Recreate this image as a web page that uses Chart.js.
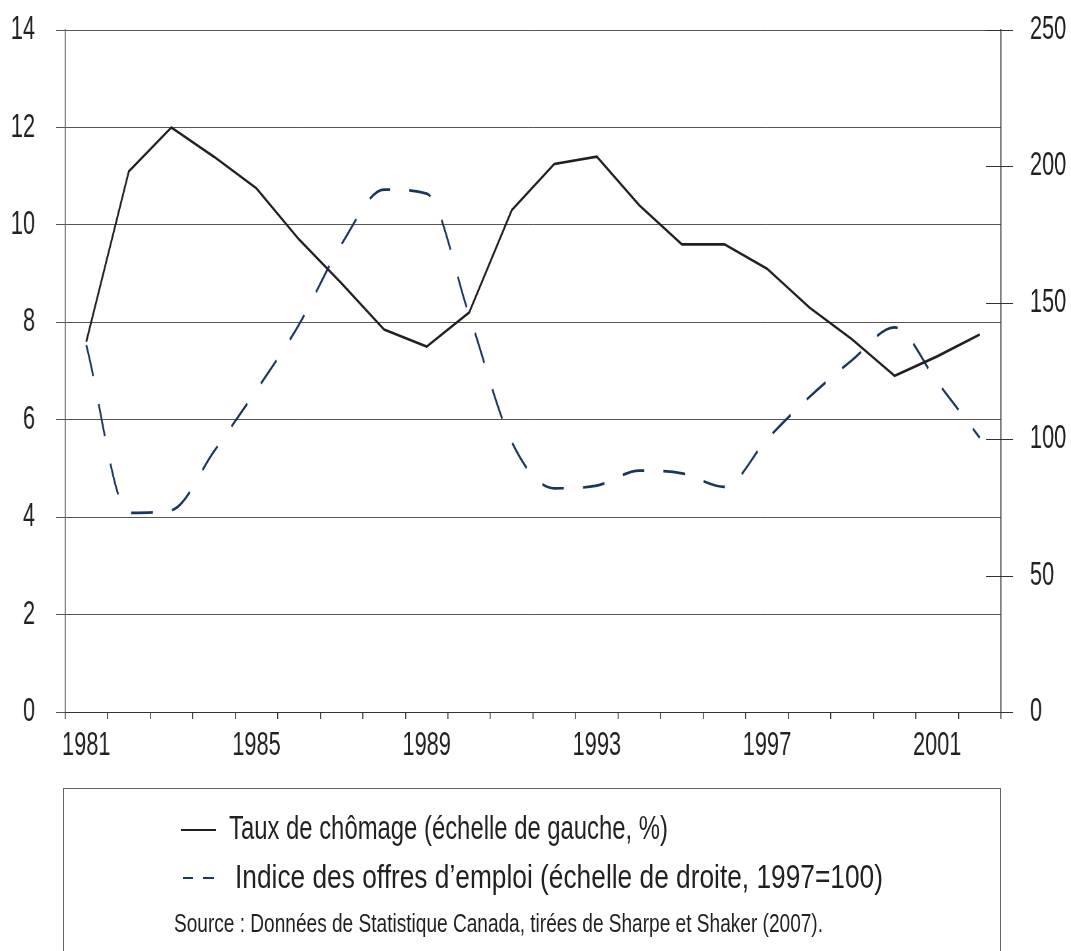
<!DOCTYPE html>
<html lang="fr">
<head>
<meta charset="utf-8">
<title>Taux de chômage et offres d'emploi</title>
<script src="https://cdn.jsdelivr.net/npm/chart.js@4.4.1/dist/chart.umd.min.js"></script>
<style>
  html, body { margin: 0; background: #fff; overflow: hidden; }
  #wrap { position: relative; width: 1071px; height: 951px; overflow: hidden;
          font-family: "Liberation Sans", Arial, sans-serif; color: #231f20; }
  /* le graphique est dessine plus large puis comprime : texte etroit comme l'original */
  #box { position: absolute; left: 0; top: 0; width: 1623px; height: 790px;
         transform: scaleX(0.659889); transform-origin: 0 0; }
  #legend { position: absolute; left: 63px; top: 788px; width: 936px; height: 200px;
            border: 1px solid #666; border-bottom: none; }
  .item { position: absolute; white-space: nowrap; line-height: 1; transform-origin: 0 0; }
  .swatch { position: absolute; height: 0; }
</style>
</head>
<body>
<div id="wrap">
  <div id="box"><canvas id="chomage-chart"></canvas></div>
  <div id="legend">
    <div class="swatch" style="left:117px; top:40px; width:35px; border-top:2px solid #231f20;"></div>
    <div class="item" id="lab1" data-w="439" style="left:165px; top:23px; font-size:32.5px;"></div>
    <div class="swatch" style="left:119px; top:88px; width:10px; border-top:2px solid #1b365d;"></div>
    <div class="swatch" style="left:139px; top:88px; width:11px; border-top:2px solid #1b365d;"></div>
    <div class="item" id="lab2" data-w="648" style="left:171px; top:72px; font-size:32.5px;"></div>
    <div class="item" id="source" data-w="649" style="left:110px; top:121px; font-size:26.6px;"></div>
  </div>
</div>
<script>
var K = 1071 / 1623;   // compression horizontale du canevas

// annees
var annees = ["1981", "1982", "1983", "1984", "1985", "1986", "1987", "1988", "1989", "1990", "1991",
              "1992", "1993", "1994", "1995", "1996", "1997", "1998", "1999", "2000", "2001", "2002"];

// taux de chomage, % (echelle de gauche)
var tauxChomage = [7.6, 11.1, 12.0, 11.4, 10.75, 9.7, 8.8, 7.85, 7.5, 8.2, 10.3,
                   11.25, 11.4, 10.4, 9.6, 9.6, 9.1, 8.3, 7.65, 6.9, 7.3, 7.75];

// indice des offres d'emploi, 1997=100 (echelle de droite)
var indiceOffres = [134.5, 73, 74, 95.5, 118, 142, 171.5, 191.5, 190, 145.5, 99,
                    82, 83, 88.5, 87.5, 82.5, 100, 115.5, 129, 141, 121, 100.5];

var labelChomage = "Taux de chômage (échelle de gauche, %)";
var labelOffres = "Indice des offres d’emploi (échelle de droite, 1997=100)";
var texteSource = "Source : Données de Statistique Canada, tirées de Sharpe et Shaker (2007).";

document.getElementById("lab1").textContent = labelChomage;
document.getElementById("lab2").textContent = labelOffres;
document.getElementById("source").textContent = texteSource;

// texte etroit de la legende
document.querySelectorAll(".item").forEach(el => {
    let w = el.getBoundingClientRect().width;
    el.style.transform = "scaleX(" + (Number(el.dataset.w) / w) + ")";
});

Chart.defaults.font.family = '"Liberation Sans", Arial, sans-serif';
Chart.defaults.color = "#231f20";

// petits traits qui croisent l'axe de droite
var traitsDroite = {
    id: "traitsDroite",
    afterDraw(chart) {
        let s = chart.scales.y2;
        let ctx = chart.ctx;
        ctx.save();
        ctx.strokeStyle = "#333";
        ctx.lineWidth = 1;
        s.ticks.forEach(t => {
            let y = Math.round(s.getPixelForValue(t.value)) + 0.5;
            ctx.beginPath();
            ctx.moveTo(s.left - 15 / K, y);
            ctx.lineTo(s.left + 12 / K, y);
            ctx.stroke();
        });
        ctx.restore();
    }
};

new Chart(document.getElementById("chomage-chart"), {
    type: "line",
    data: {
        labels: annees,
        datasets: [
            {
                label: labelChomage,
                data: tauxChomage,
                yAxisID: "y",
                borderColor: "#231f20",
                borderWidth: 2.7,
                pointRadius: 0,
                tension: 0
            },
            {
                label: labelOffres,
                data: indiceOffres,
                yAxisID: "y2",
                borderColor: "#1b365d",
                borderWidth: 2.7,
                borderDash: [33, 29],
                pointRadius: 0,
                cubicInterpolationMode: "monotone"
            }
        ]
    },
    options: {
        responsive: true,
        maintainAspectRatio: false,
        animation: false,
        layout: { padding: { top: 30, left: 0, right: 0, bottom: 0 } },
        plugins: {
            legend: { display: false },
            tooltip: { enabled: false }
        },
        scales: {
            x: {
                type: "category",
                offset: true,
                grid: { drawOnChartArea: false, drawTicks: true, tickLength: 7, color: "#333",
                        lineWidth: 1 / K, offset: true },
                border: { display: true, color: "#333", width: 1 },
                ticks: {
                    autoSkip: false,
                    maxRotation: 0,
                    padding: 7,
                    font: { size: 33 },
                    callback: function (v, i) { return i % 4 === 0 ? annees[i] : ""; }
                },
                afterFit: function (s) { s.height = 78; }
            },
            y: {
                position: "left",
                min: 0,
                max: 14,
                ticks: { stepSize: 2, padding: 21 / K, font: { size: 33 } },
                grid: { color: "#555", lineWidth: 1, tickLength: 9 / K },
                border: { display: true, color: "#444", width: 1 / K },
                afterFit: function (s) { s.width = 65 / K; s.paddingTop = 0; s.paddingBottom = 0; }
            },
            y2: {
                position: "right",
                min: 0,
                max: 250,
                ticks: { stepSize: 50, padding: 29 / K, font: { size: 33 } },
                grid: { drawOnChartArea: false, drawTicks: false },
                border: { display: true, color: "#333", width: 1 / K },
                afterFit: function (s) { s.width = 70 / K; s.paddingTop = 0; s.paddingBottom = 0; }
            }
        }
    },
    plugins: [traitsDroite]
});
</script>
</body>
</html>
